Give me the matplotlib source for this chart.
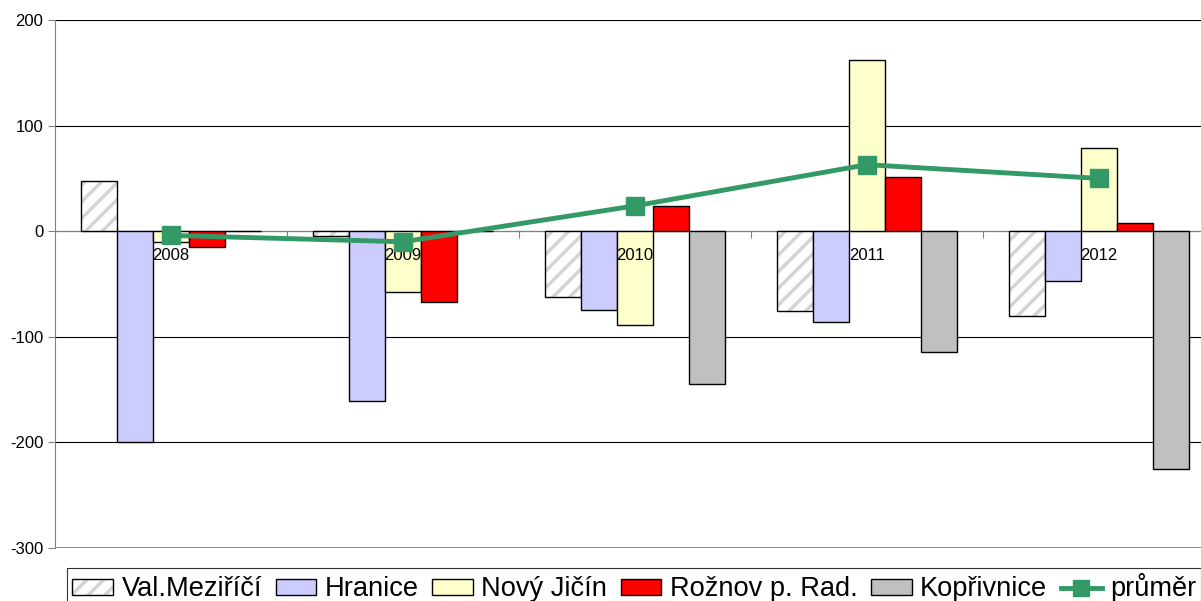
import numpy as np
import matplotlib.pyplot as plt
from matplotlib.patches import Patch
from matplotlib.lines import Line2D

plt.rcParams['font.family'] = ['Liberation Sans', 'DejaVu Sans']
plt.rcParams['hatch.linewidth'] = 2.5
plt.rcParams['axes.unicode_minus'] = False

# data
years = ['2008', '2009', '2010', '2011', '2012']
val_mezirici = [48, -5, -62, -76, -80]
hranice = [-200, -161, -75, -86, -47]
novy_jicin = [-10, -58, -89, 162, 79]
roznov = [-15, -67, 24, 51, 8]
koprivnice = [0, 0, -145, -114, -225]
prumer = [-4, -10, 24, 63, 50]

series = [
    ('Val.Meziříčí', val_mezirici, 'white'),
    ('Hranice', hranice, '#ccccff'),
    ('Nový Jičín', novy_jicin, '#ffffcc'),
    ('Rožnov p. Rad.', roznov, '#ff0000'),
    ('Kopřivnice', koprivnice, '#c0c0c0'),
]

fig = plt.figure(figsize=(12.01, 6.01), dpi=100)
ax = fig.add_axes([55 / 1201, 1 - 548 / 601, 1160 / 1201, 528 / 601])

x = np.arange(len(years))
w = 0.155
handles = []
for i, (name, vals, col) in enumerate(series):
    pos = x + (i - 2) * w
    if i == 0:
        ax.bar(pos, vals, w, color='white', edgecolor='#d4d4d4', hatch='//', linewidth=0, zorder=3)
        ax.bar(pos, vals, w, fill=False, edgecolor='black', linewidth=1, zorder=3)
        handles.append((Patch(facecolor='white', edgecolor='#d4d4d4', hatch='//', linewidth=0),
                        Patch(fill=False, edgecolor='black', linewidth=1)))
    else:
        ax.bar(pos, vals, w, color=col, edgecolor='black', linewidth=1, zorder=3)
        handles.append(Patch(facecolor=col, edgecolor='black', linewidth=1))

ax.plot(x, prumer, color='#339966', lw=3.5, marker='s', ms=13.5, zorder=5)
handles.append(Line2D([], [], color='#339966', lw=3.5, marker='s', ms=12))

ax.set_xlim(-0.5, 4.5)
ax.set_ylim(-300, 200)
ax.set_yticks([-300, -200, -100, 0, 100, 200])
ax.yaxis.grid(True, color='black', lw=0.8, zorder=0)
ax.tick_params(axis='y', labelsize=12, length=5, width=0.8, color='#808080')

# x axis sits at zero
ax.spines['bottom'].set_position(('data', 0))
ax.spines['bottom'].set_color('#808080')
ax.spines['bottom'].set_zorder(2)
ax.spines['top'].set_visible(False)
ax.spines['right'].set_visible(False)
ax.spines['left'].set_color('#808080')
ax.set_xticks(x[:-1] + 0.5)
ax.set_xticklabels([])
ax.tick_params(axis='x', which='major', length=5, color='#808080', direction='out')
ax.axhline(-300, color='#808080', lw=1.2, zorder=1)

# category labels drawn over the bars
for xi, yr in zip(x, years):
    ax.annotate(yr, (xi, 0), xytext=(0, -12), textcoords='offset points',
                ha='center', va='top', fontsize=12, zorder=4)

labels = [s[0] for s in series] + ['průměr']
leg = fig.legend(handles, labels, loc='upper left', bbox_to_anchor=(67 / 1201, 1 - 568 / 601),
                 ncol=6, fontsize=19.6, frameon=True, fancybox=False, edgecolor='black',
                 handlelength=1.5, handleheight=0.55, handletextpad=0.3, columnspacing=0.5,
                 borderpad=0.2, borderaxespad=0)
leg.get_frame().set_linewidth(0.8)

fig.savefig('out.png', dpi=100)
